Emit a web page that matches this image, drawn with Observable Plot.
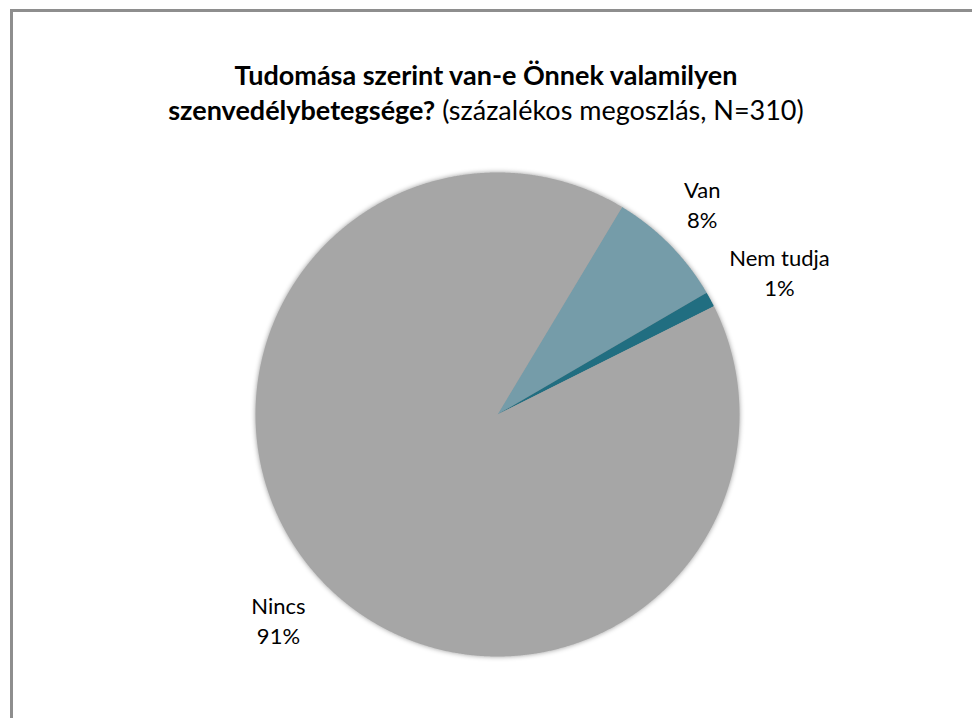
<!DOCTYPE html>
<html><head><meta charset="utf-8">
<script src="https://cdn.jsdelivr.net/npm/d3@7"></script>
<script src="https://cdn.jsdelivr.net/npm/@observablehq/plot@0.6"></script>
<style>
html,body{margin:0;padding:0;background:#fff;width:972px;height:718px;overflow:hidden;}
#frame{position:absolute;left:10px;top:9px;width:1000px;height:800px;border-left:3px solid #8e8e8e;border-top:3px solid #8e8e8e;}
#title{position:absolute;left:0;top:57px;width:972px;text-align:center;font-family:Lato,"Noto Sans",sans-serif;font-size:27px;line-height:35px;color:#000}
#chart{position:absolute;left:0;top:140px}
#chart g[aria-label="line"]{filter:drop-shadow(0 0 2.5px rgba(0,0,0,0.4));}
</style></head><body>
<div id="frame"></div>
<div id="title"><b>Tudomása szerint van-e Önnek valamilyen</b><br><b>szenvedélybetegsége?</b> (százalékos megoszlás, N=310)</div>
<div id="chart"></div>
<script>
const categories = ["Van", "Nem tudja", "Nincs"];
const percents = [8, 1, 91];
const colors = ["#759ca9", "#216e81", "#a6a6a6"];
const startDeg = 31;

const R = 242;        // pixel radius (used to convert label offsets)
const fontSize = 22;
const lineH = 30;

const a0 = startDeg * Math.PI / 180;
const arcs = d3.pie().sort(null).startAngle(a0).endAngle(a0 + 2 * Math.PI)(percents);

const slicePoints = [];
arcs.forEach((a, i) => {
  const cat = categories[i];
  slicePoints.push({cat, x: 0, y: 0});
  const n = Math.max(2, Math.ceil((a.endAngle - a.startAngle) / (Math.PI / 720)));
  for (let k = 0; k <= n; k++) {
    const t = a.startAngle + (a.endAngle - a.startAngle) * k / n;
    slicePoints.push({cat, x: Math.sin(t), y: Math.cos(t)});
  }
  slicePoints.push({cat, x: 0, y: 0});
});

// outside "best fit" labels: anchor just outside the rim, box pushed outward
const labels = arcs.map((a, i) => {
  const m = (a.startAngle + a.endAngle) / 2;
  const w = categories[i].length * fontSize * 0.5;
  const h = lineH * 2;
  const s = Math.sin(m), c = Math.cos(m);
  return {
    x: 1.12 * s + (s * w / 2) / R,
    y: 1.12 * c + (c * h / 2) / R,
    text: categories[i] + "\n" + percents[i] + "%"
  };
});

const chart = Plot.plot({
  width: 972,
  height: 578,
  marginLeft: 255,
  marginRight: 233,
  marginTop: 32,
  marginBottom: 62,
  x: {domain: [-1, 1], axis: null},
  y: {domain: [-1, 1], axis: null},
  color: {domain: categories, range: colors},
  style: {fontFamily: "Lato, 'Noto Sans', sans-serif", background: "transparent"},
  marks: [
    Plot.line(slicePoints, {x: "x", y: "y", z: "cat", fill: "cat", stroke: null}),
    Plot.text(labels, {x: "x", y: "y", text: "text", fontSize: fontSize, lineHeight: lineH / fontSize, fill: "#000"})
  ]
});
document.getElementById("chart").appendChild(chart);
</script>
</body></html>
